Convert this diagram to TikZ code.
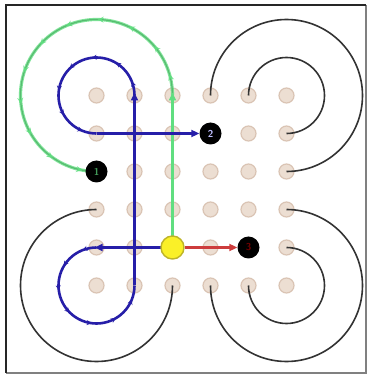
\documentclass[tikz,border=0pt]{standalone}
\usetikzlibrary{arrows.meta,decorations.markings}
\definecolor{dotfill}{RGB}{236,222,210}
\definecolor{dotring}{RGB}{218,196,180}
\definecolor{pathblue}{RGB}{38,30,168}
\definecolor{pathgreen}{RGB}{96,222,128}
\definecolor{pathred}{RGB}{205,60,60}
\definecolor{yelfill}{RGB}{250,240,40}
\definecolor{yelring}{RGB}{190,180,40}
\tikzset{
  gdot/.style={circle,fill=dotfill,draw=dotring,line width=1.2pt,minimum size=15pt,inner sep=0pt},
  numnode/.style={circle,fill=black,minimum size=22pt,inner sep=0pt,font=\sffamily\bfseries},
  blackarc/.style={draw=black!80,line width=1.6pt},
  bluepath/.style={draw=pathblue,line width=2.6pt},
  tipb/.style={-{Triangle[length=8pt,width=7pt]}},
  bluemarks/.style={bluepath,postaction={decorate},decoration={markings,
     mark=between positions 0.08 and 0.95 step 0.14 with {\arrow[pathblue]{Stealth[length=5pt,width=5pt]}}}},
  greenmarks/.style={draw=pathgreen,line width=3.2pt,opacity=0.8,postaction={decorate},decoration={markings,
     mark=between positions 0.06 and 0.97 step 0.09 with {\arrow[pathgreen]{Stealth[length=6pt,width=6pt]}}}},
}
\begin{document}
\begin{tikzpicture}[x=1pt,y=1pt]
\useasboundingbox (0,0) rectangle (372,376);
\fill[white] (0,0) rectangle (372,376);
% frame
\draw[black!50,line width=1.5pt] (366,371) -- (366,3) -- (6,3);
\draw[black!85,line width=2.2pt] (6,3) -- (6,371) -- (366,371);
% grid coordinates
\foreach \i in {0,...,5} {
  \foreach \j in {0,...,5} {
    \coordinate (d-\i-\j) at ({96.5+38*\i},{280.5-38*\j});
  }
}
% dots
\foreach \i in {0,...,5} {
  \foreach \j in {0,...,5} {
    \node[gdot] (g-\i-\j) at (d-\i-\j) {};
  }
}
% black arcs
\draw[blackarc] (d-3-0) arc[start angle=180,end angle=-90,radius=76];
\draw[blackarc] (d-4-0) arc[start angle=180,end angle=-90,radius=38];
\draw[blackarc] (d-5-3) arc[start angle=90,end angle=-180,radius=76];
\draw[blackarc] (d-5-4) arc[start angle=90,end angle=-180,radius=38];
\draw[blackarc] (d-0-3) arc[start angle=90,end angle=360,radius=76];
% green route
\draw[black!80,line width=1.2pt] (d-2-0) arc[start angle=0,end angle=270,radius=76];
\draw[greenmarks] (d-2-0) arc[start angle=0,end angle=270,radius=76];
% straight connectors
\draw[pathgreen,line width=2.8pt,tipb,shorten <=10pt,shorten >=-3pt] (d-2-4) -- (d-2-0);
\draw[pathblue,line width=2.6pt,tipb,shorten <=10pt,shorten >=-2pt] (d-2-4) -- (d-0-4);
\draw[bluemarks] (d-0-4) arc[start angle=90,end angle=360,radius=38];
\draw[pathblue,line width=2.6pt,tipb,shorten >=-3pt] (d-1-5) -- (d-1-0);
\draw[bluemarks] (d-1-0) arc[start angle=0,end angle=270,radius=38];
% nodes
\node[circle,fill=yelfill,draw=yelring,line width=1.4pt,minimum size=23pt,inner sep=0pt] (yel) at (d-2-4) {};
\node[numnode,text=pathgreen!70!black] (n1) at (d-0-2) {1};
\node[numnode,text=blue!25!white] (n2) at (d-3-1) {2};
\node[numnode,text=red!45!black] (n3) at (d-4-4) {3};
\draw[pathblue,line width=2.6pt,tipb] (d-0-1) -- (n2);
\draw[pathred,line width=2.6pt,tipb] (yel) -- (n3);
\end{tikzpicture}
\end{document}
